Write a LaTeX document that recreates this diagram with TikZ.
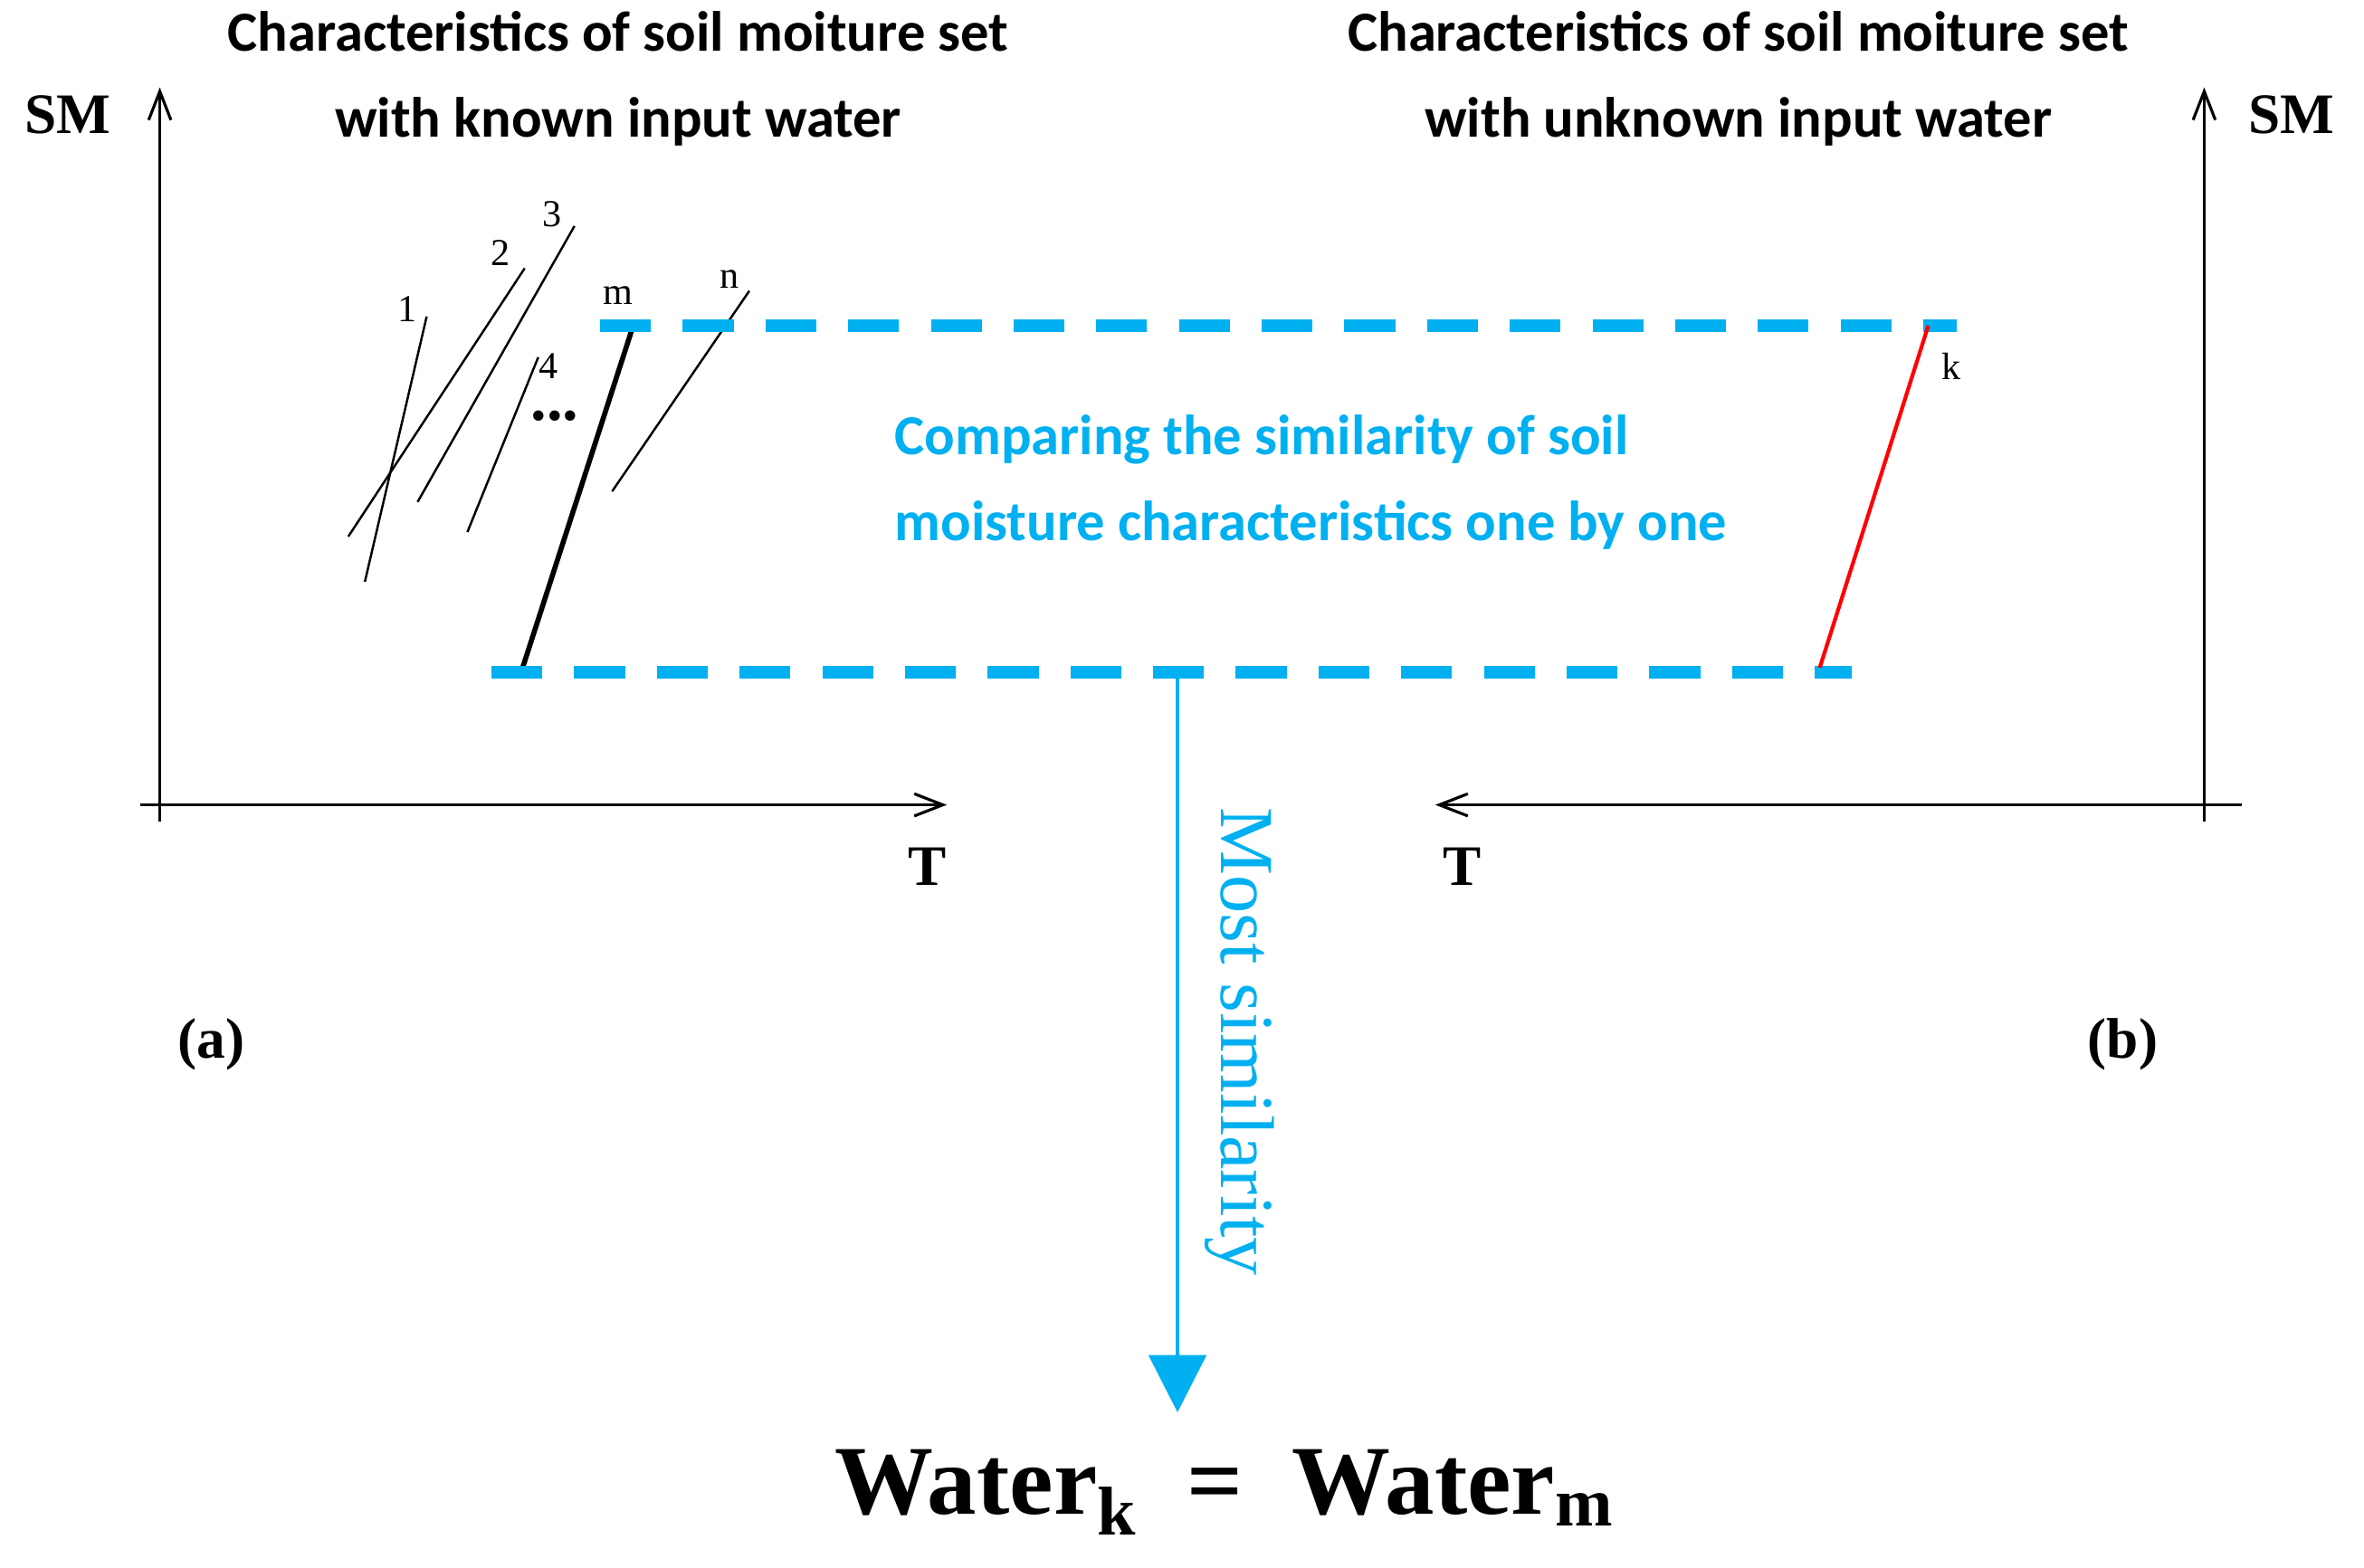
\documentclass[tikz,border=0pt]{standalone}
\usepackage{fontspec}
\setmainfont{Liberation Serif}
\newfontfamily\carlitofam{Carlito}
\usetikzlibrary{arrows.meta}
\definecolor{sky}{RGB}{0,176,240}
\begin{document}
\begin{tikzpicture}[x=0.1666mm,y=-0.1666mm,
  ax/.style={line width=0.9pt,-{Straight Barb[length=9pt,width=7pt]}},
  ttl/.style={font=\carlitofam\fontsize{17.8}{27}\selectfont\bfseries},
  big/.style={font=\fontsize{18}{20}\selectfont\bfseries},
  lab/.style={font=\fontsize{12}{14}\selectfont},
  cl/.style={line width=0.7pt},
  dsh/.style={sky,line width=4pt,dash pattern=on 16pt off 10pt}]
\useasboundingbox (0,0) rectangle (1568,1040);
% left axes
\coordinate (lo) at (106,545); \coordinate (ltop) at (106,58);
\coordinate (lx0) at (93,534); \coordinate (lx1) at (628,534);
\draw[ax] (lo) -- (ltop);
\draw[ax] (lx0) -- (lx1);
\node[big] (smL) at (45,76) {SM};
\node[big] (tL) at (615,575) {T};
\node[big] (a) at (140,693) {(a)};
% right axes
\coordinate (ro) at (1462,545); \coordinate (rtop) at (1462,58);
\coordinate (rx0) at (1487,534); \coordinate (rx1) at (952,534);
\draw[ax] (ro) -- (rtop);
\draw[ax] (rx0) -- (rx1);
\node[big] (smR) at (1520,76) {SM};
\node[big] (tR) at (970,575) {T};
\node[big] (b) at (1408,693) {(b)};
% titles
\node[ttl,align=center] (t1) at (410,52) {Characteristics of soil moiture set\\with known input water};
\node[ttl,align=center] (t2) at (1153,52) {Characteristics of soil moiture set\\with unknown input water};
% lines
\draw[cl] (242,386) -- (283,210); \node[lab] (l1) at (270,205) {1};
\draw[cl] (231,356) -- (348,178); \node[lab] (l2) at (332,168) {2};
\draw[cl] (277,333) -- (381,150); \node[lab] (l3) at (366,142) {3};
\draw[cl] (310,353) -- (357,237); \node[lab] (l4) at (364,243) {4};
\node[font=\fontsize{20}{20}\selectfont\bfseries] (dots) at (368,276) {...};
\draw[line width=1.6pt] (346,445) -- (420,216); \node[lab] (lm) at (410,196) {m};
\draw[cl] (406,326) -- (497,193); \node[lab] (ln) at (484,185) {n};
% dashed
\draw[dsh] (398,216) -- (1298,216);
\draw[dsh] (326,446) -- (1228,446);
\draw[red,line width=1.2pt] (1207,443) -- (1279,216);
\node[lab] (lk) at (1294,243) {k};
\node[ttl,sky,align=left,anchor=west] (cmp) at (586,320) {Comparing the similarity of soil\\moisture characteristics one by one};
% down arrow
\coordinate (s) at (781,446);
\node[font=\bfseries\fontsize{31}{33}\selectfont] (eq) at (812,990) {Water\textsubscript{k} \ = \ Water\textsubscript{m}};
\coordinate (e) at (781,937);
\draw[sky,line width=1.3pt,-{Triangle[length=18pt,width=18pt]}] (s) -- (e);
\node[sky,rotate=-90,font=\fontsize{24}{26}\selectfont] (ms) at (822,691) {Most similarity};
\end{tikzpicture}
\end{document}
